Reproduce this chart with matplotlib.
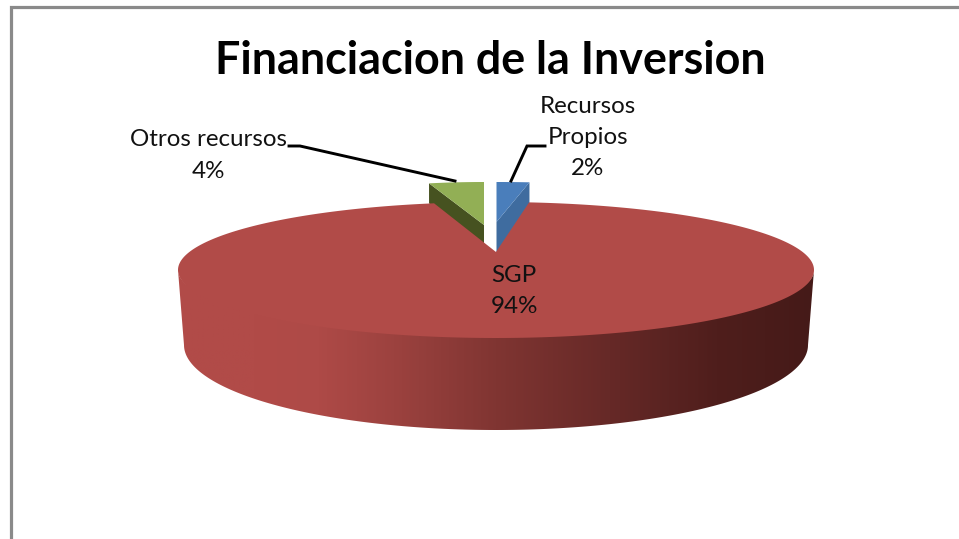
import numpy as np
import matplotlib
matplotlib.use("Agg")
import matplotlib.pyplot as plt
from matplotlib.colors import LinearSegmentedColormap
from matplotlib.patches import Polygon

# ---- data
title = "Financiacion de la Inversion"
categories = ["Recursos\nPropios", "SGP", "Otros recursos"]
values = [2, 94, 4]

# ---- style / layout (pixel space)
plt.rcParams["font.family"] = ["Lato", "DejaVu Sans"]
W, H = 959, 539
fig = plt.figure(figsize=(W / 100, H / 100), dpi=100)
ax = fig.add_axes([0, 0, 1, 1])
ax.set_xlim(0, W)
ax.set_ylim(H, 0)
ax.axis("off")

CX, CY, RX, RY = 496, 270, 318, 68          # top ellipse of the main slice
BX, BY, BRX, BRY = 496, 345, 312, 85        # base ellipse
NOTCH_APEX = (496, 252)
NOTCH_PERSP = {0: 0.83, 2: 0.78}
SLICE = {0: dict(apex=(496.5, 222), rx=263, ry=40, depth=34, top="#4A7EBB", side="#3F6C9F"),
         2: dict(apex=(484, 225), rx=221, ry=43, depth=20, top="#92AF55", side="#465220")}
RED = "#B14B48"

sweep = 360 * np.array(values, float) / sum(values)
ends = np.cumsum(sweep)
starts = ends - sweep


def arc(cx, cy, rx, ry, a0, a1, n=200):
    t = np.radians(np.linspace(a0, a1, n))
    return np.column_stack([cx + rx * np.sin(t), cy - ry * np.cos(t)])


# frame
ax.plot([10.5, 10.5, W], [H, 7.2, 7.2], color="#8A8A8A", lw=2.3,
        solid_joinstyle="miter", solid_capstyle="butt", zorder=1)

# small slices: cut wall then top face
for i in (0, 2):
    s = SLICE[i]
    a, b = starts[i] % 360, ends[i] if ends[i] > starts[i] % 360 else ends[i] + 360
    top = arc(*s["apex"], s["rx"], s["ry"], a, b, 40)
    outer = top[-1] if i == 0 else top[0]
    apex = np.array(s["apex"], float)
    wall = np.array([apex, outer, outer + [0, s["depth"]], apex + [0, s["depth"]]])
    ax.add_patch(Polygon(wall, closed=True, fc=s["side"], ec="none", zorder=2))
    ax.add_patch(Polygon(np.vstack([apex, top]), closed=True, fc=s["top"], ec="none", zorder=3))

# main slice: side wall with shaded gradient
front_top = arc(CX, CY, RX, RY - 4, 90, 270)
front_bot = arc(BX, BY, BRX, BRY, 90, 270)
side_pts = np.vstack([front_top, front_bot[::-1]])
side = Polygon(side_pts, closed=True, fc="none", ec="none", zorder=4)
ax.add_patch(side)
cmap = LinearSegmentedColormap.from_list(
    "shade",
    [(0.00, RED), (0.12, RED), (0.22, "#AE4A47"), (0.34, "#9C423F"), (0.50, "#803532"),
     (0.68, "#662927"), (0.85, "#4F1E1C"), (1.00, "#451A18")])
img = ax.imshow(np.linspace(0, 1, 512)[None, :], cmap=cmap, aspect="auto",
                extent=(CX - RX, CX + RX, BY + BRY + 2, CY - 2), zorder=4)
img.set_clip_path(side)
ax.set_xlim(0, W)
ax.set_ylim(H, 0)

# main slice: top face with notch
a0 = ends[0] * NOTCH_PERSP[0]
a1 = 360 - sweep[2] * NOTCH_PERSP[2]
ax.add_patch(Polygon(np.vstack([NOTCH_APEX, arc(CX, CY, RX, RY, a0, a1, 400)]),
                     closed=True, fc=RED, ec="none", zorder=5))

# leader lines
ax.plot([289, 300, 455], [146, 146, 181], color="black", lw=2.1, zorder=6,
        solid_joinstyle="miter")
ax.plot([545, 527, 511], [146, 146, 181], color="black", lw=2.1, zorder=6,
        solid_joinstyle="miter")

# texts
FS = 17.4
LS = 1.6
tc = "#111111"
ax.text(490.5, 61, title, ha="center", va="center", fontsize=32.3, fontweight="bold",
        color="black", zorder=7)
ax.text(208, 155.5, f"{categories[2]}\n{values[2]}%", ha="center", va="center",
        fontsize=FS, color=tc, linespacing=LS, zorder=7)
ax.text(588, 137.5, f"{categories[0]}\n{values[0]}%", ha="center", va="center",
        fontsize=FS, color=tc, linespacing=LS, zorder=7)
ax.text(514, 291, f"{categories[1]}\n{values[1]}%", ha="center", va="center",
        fontsize=FS, color=tc, linespacing=LS, zorder=7)

fig.savefig("out.png", dpi=100, facecolor="white")
